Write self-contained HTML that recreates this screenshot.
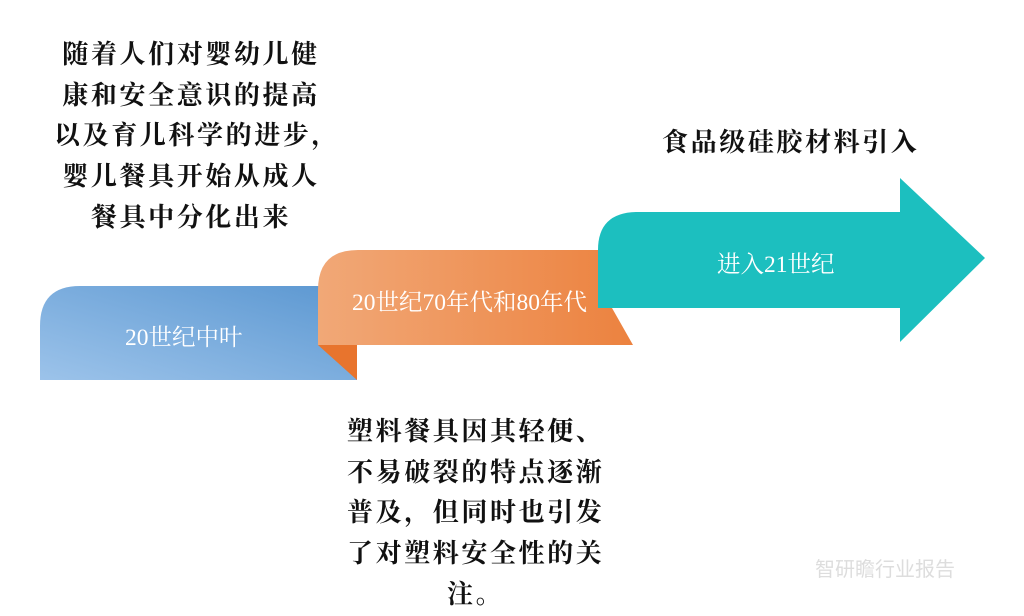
<!DOCTYPE html>
<html><head><meta charset="utf-8"><style>
body{margin:0;width:1024px;height:614px;background:#fff;overflow:hidden;position:relative;font-family:"Liberation Serif","Noto Serif CJK SC",serif}
.t{position:absolute;font-weight:bold;font-size:26px;color:#111;letter-spacing:2.6px;line-height:40.7px;white-space:nowrap}
.w{position:absolute;color:#fff;font-size:23.5px;white-space:nowrap}
</style></head><body>
<svg width="1024" height="614" style="position:absolute;left:0;top:0">
<defs>
<linearGradient id="b" x1="0" y1="1" x2="1" y2="0"><stop offset="0" stop-color="#9cc3ea"/><stop offset="1" stop-color="#5b97d1"/></linearGradient>
<linearGradient id="o" x1="0" y1="0" x2="1" y2="0"><stop offset="0" stop-color="#f1a877"/><stop offset="1" stop-color="#ec823f"/></linearGradient>
</defs>
<path d="M40 380 L40 326 Q40 286 80 286 L357 286 L357 380 Z" fill="url(#b)"/>
<path d="M318 345 L357 345 L357 380 Z" fill="#e8742d"/>
<path d="M318 345 L318 290 Q318 250 358 250 L598 250 L598 308 L612 308 L633 345 Z" fill="url(#o)"/>
<path d="M598 308 L598 250 Q598 212 638 212 L900 212 L900 178 L985 258 L900 342 L900 308 Z" fill="#1cbfbf"/>
</svg>
<div class="t" style="left:54px;top:35px;text-align:center;width:274px">随着人们对婴幼儿健<br>康和安全意识的提高<br>以及育儿科学的进步，<br>婴儿餐具开始从成人<br>餐具中分化出来</div>
<div class="t" style="left:662px;top:123px">食品级硅胶材料引入</div>
<div class="t" style="left:347px;top:412px">塑料餐具因其轻便、<br>不易破裂的特点逐渐<br>普及，但同时也引发<br>了对塑料安全性的关<br><span style="padding-left:100px">注。</span></div>
<div class="w" style="left:125px;top:318px">20世纪中叶</div>
<div class="w" style="left:352px;top:283px">20世纪70年代和80年代</div>
<div class="w" style="left:717px;top:245px">进入21世纪</div>
<div style="position:absolute;left:815px;top:553px;font-size:20px;color:#ddd;font-family:'Noto Sans CJK SC',sans-serif">智研瞻行业报告</div>
</body></html>
